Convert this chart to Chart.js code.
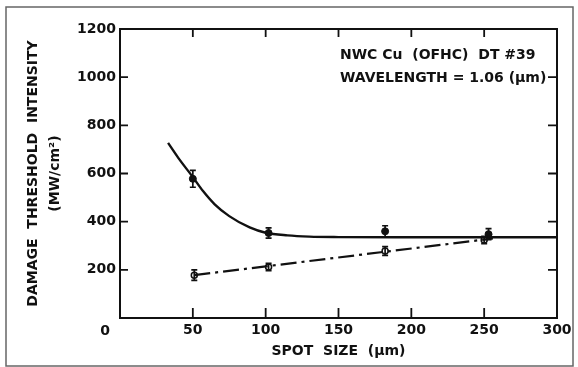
<!DOCTYPE html>
<html>
<head>
<meta charset="utf-8">
<script src="https://cdn.jsdelivr.net/npm/chart.js@4"></script>
<style>
  html, body { margin: 0; padding: 0; background: #fff; }
  canvas { display: block; }
</style>
</head>
<body>
<canvas id="canvas1" width="578" height="367"></canvas>
<script>
const canvas = document.getElementById('canvas1');
var ctx = canvas.getContext('2d');
Chart.defaults.plugins.legend.display = false;
Chart.defaults.plugins.tooltip.enabled = false;
Chart.defaults.font.family = "'DejaVu Sans', sans-serif";
Chart.defaults.color = '#111';

// smooth fitted curve through the filled points
const curveX = [33, 40, 50, 57, 65, 75, 89, 100, 115, 130, 150, 200, 250, 300];
const curveY = [727, 665, 585, 527, 472, 423, 376, 354, 343, 338, 336, 335, 335, 335];

// filled points with error bars
const filledX = [50, 102, 182, 253];
const filledY = [578, 353, 360, 348];
const filledErr = [35, 21, 23, 23];

// open points with error bars
const openX = [51, 102, 182, 250];
const openY = [178, 212, 278, 324];
const openErr = [22, 15, 18, 15];

// dash-dot straight line
const lineX = [51, 256];
const lineY = [178, 330];

const xTicks = [0, 50, 100, 150, 200, 250, 300];
const yTicks = [0, 200, 400, 600, 800, 1000, 1200];

const noteLines = ['NWC Cu  (OFHC)  DT #39', 'WAVELENGTH = 1.06 (\u03bcm)'];

const pts = (xs, ys) => xs.map((x, i) => ({x: x, y: ys[i]}));

const frame = {
  id: 'frame',
  beforeDraw(chart) {
    const c = chart.ctx;
    c.save();
    c.fillStyle = '#fff';
    c.fillRect(0, 0, chart.width, chart.height);
    c.strokeStyle = '#666';
    c.lineWidth = 1.5;
    c.strokeRect(6, 7, 567, 359);
    c.restore();
  },
  afterDatasetsDraw(chart) {
    const c = chart.ctx;
    const xs = chart.scales.x, ys = chart.scales.y;
    const a = chart.chartArea;
    c.save();
    c.strokeStyle = '#111';
    c.lineWidth = 2;
    c.strokeRect(a.left, a.top, a.right - a.left, a.bottom - a.top);

    // inward ticks on all four sides
    c.lineWidth = 1.8;
    c.beginPath();
    xTicks.slice(1, -1).forEach(v => {
      const px = xs.getPixelForValue(v);
      c.moveTo(px, a.bottom); c.lineTo(px, a.bottom - 10);
      c.moveTo(px, a.top); c.lineTo(px, a.top + 8);
    });
    yTicks.slice(1, -1).forEach(v => {
      const py = ys.getPixelForValue(v);
      c.moveTo(a.left, py); c.lineTo(a.left + 8, py);
      c.moveTo(a.right, py); c.lineTo(a.right - 9, py);
    });
    c.stroke();

    // error bars
    c.lineWidth = 1.7;
    const bars = (xv, yv, ev) => {
      xv.forEach((x, i) => {
        const px = xs.getPixelForValue(x);
        const t = ys.getPixelForValue(yv[i] + ev[i]);
        const b = ys.getPixelForValue(yv[i] - ev[i]);
        c.beginPath();
        c.moveTo(px, t); c.lineTo(px, b);
        c.moveTo(px - 3, t); c.lineTo(px + 3, t);
        c.moveTo(px - 3, b); c.lineTo(px + 3, b);
        c.stroke();
      });
    };
    bars(filledX, filledY, filledErr);
    bars(openX, openY, openErr);

    // shared origin label and note text
    c.fillStyle = '#111';
    c.font = "bold 14px 'DejaVu Sans', sans-serif";
    c.textAlign = 'center';
    c.textBaseline = 'middle';
    c.fillText('0', a.left - 15, a.bottom + 13);
    c.textAlign = 'left';
    noteLines.forEach((t, i) => {
      c.fillText(t, xs.getPixelForValue(151), ys.getPixelForValue(1092 - i * 96));
    });
    c.restore();
  }
};

const data = {
  datasets: [{
    data: pts(curveX, curveY),
    showLine: true,
    borderColor: '#111',
    borderWidth: 2.4,
    pointRadius: 0,
    cubicInterpolationMode: 'monotone',
    fill: false
  }, {
    data: pts(lineX, lineY),
    showLine: true,
    borderColor: '#111',
    borderWidth: 2.2,
    borderDash: [16, 5, 3, 5],
    pointRadius: 0,
    fill: false
  }, {
    data: pts(filledX, filledY),
    showLine: false,
    pointRadius: 3.5,
    pointBackgroundColor: '#111',
    pointBorderColor: '#111'
  }, {
    data: pts(openX, openY),
    showLine: false,
    pointRadius: 3,
    pointBorderWidth: 1.5,
    pointBackgroundColor: '#fff',
    pointBorderColor: '#111'
  }]
};

const options = {
  responsive: false,
  animation: false,
  layout: { padding: { top: 29, right: 21, left: 0, bottom: 0 } },
  scales: {
    x: {
      type: 'linear',
      min: 0,
      max: 300,
      afterFit(s) { s.height = 49; },
      afterBuildTicks(s) { s.ticks = xTicks.map(v => ({value: v})); },
      grid: { display: false, drawTicks: false },
      border: { display: false },
      ticks: {
        padding: 4,
        maxRotation: 0,
        font: { size: 14, weight: 'bold' },
        color: '#111',
        callback: v => (v === 0 ? '' : v)
      },
      title: {
        display: true,
        text: 'SPOT  SIZE  (\u03bcm)',
        font: { size: 14, weight: 'bold' },
        color: '#111',
        padding: { top: 0, bottom: 7 }
      }
    },
    y: {
      min: 0,
      max: 1200,
      afterFit(s) { s.width = 120; },
      afterBuildTicks(s) { s.ticks = yTicks.map(v => ({value: v})); },
      grid: { display: false, drawTicks: false },
      border: { display: false },
      ticks: {
        padding: 4,
        font: { size: 14, weight: 'bold' },
        color: '#111',
        callback: v => (v === 0 ? '' : v)
      },
      title: {
        display: true,
        text: ['DAMAGE  THRESHOLD  INTENSITY', '(MW/cm\u00b2)'],
        font: { size: 14, weight: 'bold', lineHeight: 1.57 },
        color: '#111',
        padding: { top: 22, bottom: 0 }
      }
    }
  }
};

const config = {
  type: 'scatter',
  data: data,
  options: options,
  plugins: [frame]
};
var myChart = new Chart(ctx, config);
</script>
</body>
</html>
